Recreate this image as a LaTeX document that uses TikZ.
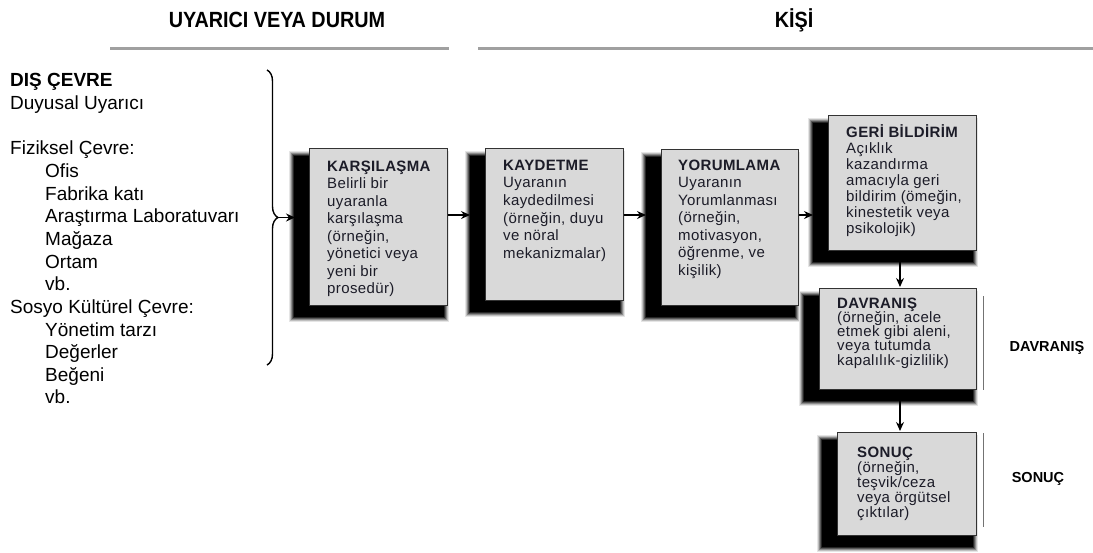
\documentclass[tikz,border=0pt]{standalone}
\usepackage{fontspec}
\setmainfont{Liberation Sans}
\newfontfamily\stagefont[LetterSpace=2.5]{Liberation Sans}
\usetikzlibrary{arrows.meta,calc,decorations.pathreplacing}
\pgfdeclarelayer{bg}
\pgfsetlayers{bg,main}
\definecolor{boxgray}{HTML}{D9D9D9}
\definecolor{rulegray}{HTML}{A0A0A0}
\definecolor{inkdark}{HTML}{1C1C28}

% soft black block behind a stage box, offset to the lower left
\newcommand\stageshadow[1]{%
  \foreach \e/\c in {5/10,4/25,3/45,2/65,1/85,0/100}{%
    \fill[black!\c] ($(#1.north west)+(-15-\e,8-\e)$) rectangle ($(#1.south east)+(-4+\e,11+\e)$);}}

\begin{document}
\begin{tikzpicture}[x=1pt,y=-1pt,
  stage/.style={draw=black!80, line width=0.9pt, fill=boxgray, anchor=north west, inner sep=0pt},
  stagetext/.style={anchor=north west, align=left, inner sep=0pt, text=inkdark},
  flow/.style={line width=1.3pt, -{Stealth[length=9pt,width=8pt]}},
  heading/.style={font=\fontsize{22}{26}\selectfont\bfseries, xscale=0.9},
  sidelabel/.style={font=\fontsize{14.5}{17}\selectfont\bfseries},
  separator/.style={draw=black!55, line width=0.8pt},
  headrule/.style={draw=rulegray, line width=3pt}]
\useasboundingbox (0,0) rectangle (1093,552);

% column headings
\node[heading] (hU) at (277,20) {UYARICI VEYA DURUM};
\node[heading] (hK) at (794,20) {KİŞİ};
\draw[headrule] (110,48) -- (449,48);
\draw[headrule] (478,48) -- (1093,48);

% external environment list
\node[anchor=north west, align=left, inner sep=0pt, font=\fontsize{19}{22.64}\selectfont] (env) at (10,73.5)
  {\textbf{DIŞ ÇEVRE}\\
   Duyusal Uyarıcı\\[22.64pt]
   Fiziksel Çevre:\\
   \hspace*{35pt}Ofis\\
   \hspace*{35pt}Fabrika katı\\
   \hspace*{35pt}Araştırma Laboratuvarı\\
   \hspace*{35pt}Mağaza\\
   \hspace*{35pt}Ortam\\
   \hspace*{35pt}vb.\\
   Sosyo Kültürel Çevre:\\
   \hspace*{35pt}Yönetim tarzı\\
   \hspace*{35pt}Değerler\\
   \hspace*{35pt}Beğeni\\
   \hspace*{35pt}vb.};
\draw[line width=1.4pt, decorate, decoration={brace, amplitude=11pt}] (267,70) -- (267,365);
\coordinate (bt) at (278,217.5);

% stage boxes
\node[stage, minimum width=138pt, minimum height=157pt] (b1) at (309,148) {};
\node[stage, minimum width=138pt, minimum height=152pt] (b2) at (485,148) {};
\node[stage, minimum width=137pt, minimum height=156pt] (b3) at (661,149) {};
\node[stage, minimum width=148pt, minimum height=135pt] (b4) at (828,115) {};
\node[stage, minimum width=157pt, minimum height=101pt] (b5) at (819,288) {};
\node[stage, minimum width=139pt, minimum height=103pt] (b6) at (837,432) {};

\begin{pgfonlayer}{bg}
  \stageshadow{b1}\stageshadow{b2}\stageshadow{b3}
  \stageshadow{b4}\stageshadow{b5}\stageshadow{b6}
\end{pgfonlayer}

\node[stagetext, font=\stagefont\fontsize{15}{17.5}\selectfont] (t1) at ($(b1.north west)+(18,12.6)$)
  {\textbf{KARŞILAŞMA}\\Belirli bir\\uyaranla\\karşılaşma\\(örneğin,\\yönetici veya\\yeni bir\\prosedür)};
\node[stagetext, font=\stagefont\fontsize{15}{17.7}\selectfont] (t2) at ($(b2.north west)+(18,11.6)$)
  {\textbf{KAYDETME}\\Uyaranın\\kaydedilmesi\\(örneğin, duyu\\ve nöral\\mekanizmalar)};
\node[stagetext, font=\stagefont\fontsize{15}{17.5}\selectfont] (t3) at ($(b3.north west)+(17,10.6)$)
  {\textbf{YORUMLAMA}\\Uyaranın\\Yorumlanması\\(örneğin,\\motivasyon,\\öğrenme, ve\\kişilik)};
\node[stagetext, font=\stagefont\fontsize{15}{16.1}\selectfont] (t4) at ($(b4.north west)+(18,9.3)$)
  {\textbf{GERİ BİLDİRİM}\\Açıklık\\kazandırma\\amacıyla geri\\bildirim (ömeğin,\\kinestetik veya\\psikolojik)};
\node[stagetext, font=\stagefont\fontsize{15}{14.2}\selectfont] (t5) at ($(b5.north west)+(18,9.6)$)
  {\textbf{DAVRANIŞ}\\(örneğin, acele\\etmek gibi aleni,\\veya tutumda\\kapalılık-gizlilik)};
\node[stagetext, font=\stagefont\fontsize{15}{15}\selectfont] (t6) at ($(b6.north west)+(20,14.6)$)
  {\textbf{SONUÇ}\\(örneğin,\\teşvik/ceza\\veya örgütsel\\çıktılar)};

% flow between stages
\coordinate (row) at (0,215);
\coordinate (col) at (900,0);
\draw[flow, shorten >=14pt] (bt) -- (b1.west |- bt);
\draw[flow, shorten >=15pt] (b1.east |- row) -- (b2.west |- row);
\draw[flow, shorten >=15pt] (b2.east |- row) -- (b3.west |- row);
\draw[flow, shorten >=15pt] (b3.east |- row) -- (b4.west |- row);
\draw[flow, shorten >=1pt] (b4.south -| col) -- (b5.north -| col);
\draw[flow, shorten >=1pt] (b5.south -| col) -- (b6.north -| col);

% outcome side labels
\draw[separator] (983,296) -- (983,390);
\draw[separator] (983,433) -- (983,527);
\node[sidelabel] (lblD) at (1047,348) {DAVRANIŞ};
\node[sidelabel] (lblS) at (1038,479) {SONUÇ};
\end{tikzpicture}
\end{document}
